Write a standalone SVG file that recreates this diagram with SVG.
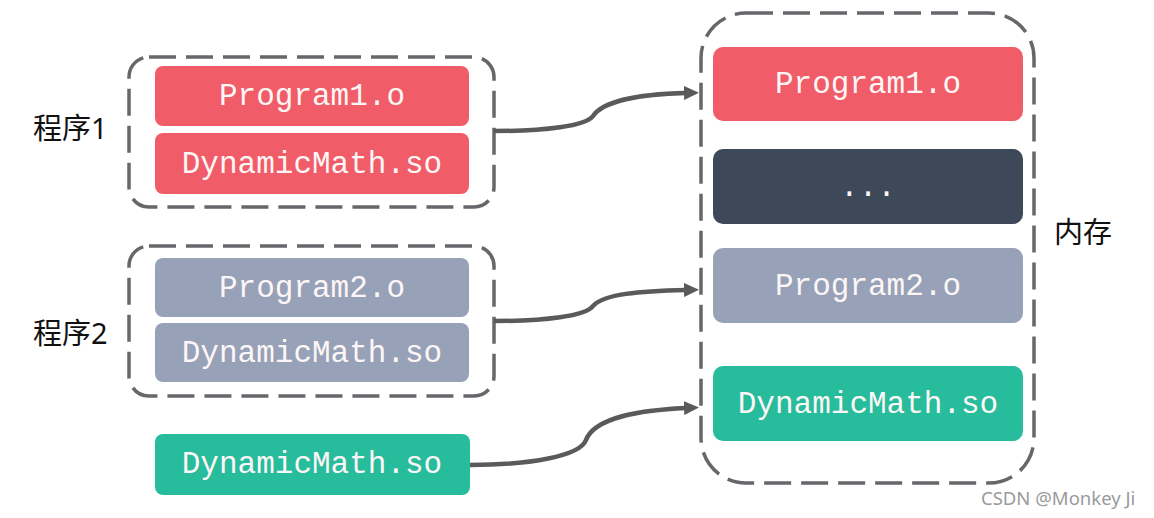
<svg xmlns="http://www.w3.org/2000/svg" width="1154" height="518" viewBox="0 0 1154 518">
<style>
.grp{fill:none;stroke:#65676b;stroke-width:3.5;stroke-dasharray:27 10}
.red{fill:#f15c69}
.dark{fill:#3d4859}
.gray{fill:#97a1b7}
.green{fill:#26bc9c}
.code{font-family:"Courier New","Liberation Mono",monospace;font-size:31px;fill:#fdf6f6;text-anchor:middle}
.lbl{font-family:"Noto Sans","Noto Sans CJK SC",sans-serif;font-size:29px;fill:#111111}
.wm{font-family:"Noto Sans","Open Sans",sans-serif;font-size:18.5px;fill:#9a9a9a}
.conn{fill:none;stroke:#5a5a5a;stroke-width:4.5}
</style>
<defs>
<marker id="arr" markerUnits="userSpaceOnUse" markerWidth="15" markerHeight="14" refX="2" refY="7" orient="auto">
<path d="M0,0 L15,7 L0,14 z" fill="#5a5a5a"/>
</marker>
</defs>
<rect width="1154" height="518" fill="#ffffff"/>

<g id="program1">
<rect class="grp" x="129" y="57" width="365" height="150" rx="20"/>
<text class="lbl" x="33" y="139">程序1</text>
<g id="p1-obj"><rect class="red" x="155" y="66" width="314" height="60" rx="8"/><text class="code" x="312" y="105">Program1.o</text></g>
<g id="p1-so"><rect class="red" x="155" y="133" width="314" height="61" rx="8"/><text class="code" x="312" y="173">DynamicMath.so</text></g>
</g>

<g id="program2">
<rect class="grp" x="129" y="246" width="365" height="150" rx="20"/>
<text class="lbl" x="33" y="344">程序2</text>
<g id="p2-obj"><rect class="gray" x="155" y="258" width="314" height="59" rx="8"/><text class="code" x="312" y="297">Program2.o</text></g>
<g id="p2-so"><rect class="gray" x="155" y="323" width="314" height="59" rx="8"/><text class="code" x="312" y="362">DynamicMath.so</text></g>
</g>

<g id="shared-so">
<rect class="green" x="155" y="434" width="315" height="61" rx="8"/>
<text class="code" x="312" y="473">DynamicMath.so</text>
</g>

<g id="memory">
<rect class="grp" x="701" y="13" width="333" height="470" rx="45"/>
<text class="lbl" x="1054" y="243">内存</text>
<g id="m-p1"><rect class="red" x="713" y="47" width="310" height="74" rx="10"/><text class="code" x="868" y="93">Program1.o</text></g>
<g id="m-dots"><rect class="dark" x="713" y="149" width="310" height="75" rx="10"/><text class="code" x="868" y="196">...</text></g>
<g id="m-p2"><rect class="gray" x="713" y="248" width="310" height="75" rx="10"/><text class="code" x="868" y="295">Program2.o</text></g>
<g id="m-so"><rect class="green" x="713" y="366" width="310" height="75" rx="10"/><text class="code" x="868" y="413">DynamicMath.so</text></g>
</g>

<g id="connectors">
<path class="conn" marker-end="url(#arr)" d="M494,131 C545,131 586,126 593,116 C603,101 640,94 686,93"/>
<path class="conn" marker-end="url(#arr)" d="M494,321 C545,321 586,316 593,306 C603,294 640,291 686,290"/>
<path class="conn" marker-end="url(#arr)" d="M470,465 C530,465 580,456 586,440 C594,418 640,410 686,408"/>
</g>

<text class="wm" x="981" y="505">CSDN @Monkey Ji</text>
</svg>
